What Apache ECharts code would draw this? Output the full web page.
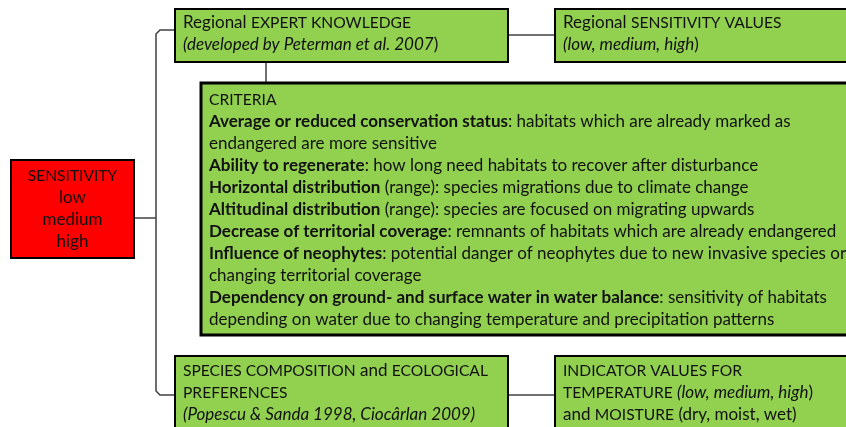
<!DOCTYPE html>
<html>
<head>
<meta charset="utf-8">
<script src="https://cdn.jsdelivr.net/npm/echarts@6/dist/echarts.min.js"></script>
<style>
  html, body { margin: 0; padding: 0; background: #fff; }
  #chart { width: 846px; height: 427px; }
</style>
</head>
<body>
<div id="chart"></div>
<script>
// box texts ({b|..} bold, {i|..} italic, {c|..} capitals)
const sensitivityLines = ['{c|SENSITIVITY}', 'low', 'medium', 'high'];
const expertLines = ['Regional {c|EXPERT KNOWLEDGE}', '{i|(developed by Peterman et al. 2007}{n|)}'];
const valuesLines = ['Regional {c|SENSITIVITY VALUES}', '{i|(low, medium, high}{n|)}'];
const criteriaLines = [
  '{c|CRITERIA}',
  '{b|Average or reduced conservation status}: habitats which are already marked as',
  'endangered are more sensitive',
  '{b|Ability to regenerate}: how long need habitats to recover after disturbance',
  '{b|Horizontal distribution} (range): species migrations due to climate change',
  '{b|Altitudinal distribution} (range): species are focused on migrating upwards',
  '{b|Decrease of territorial coverage}: remnants of habitats which are already endangered',
  '{b|Influence of neophytes}: potential danger of neophytes due to new invasive species or',
  'changing territorial coverage',
  '{b|Dependency on ground- and surface water in water balance}: sensitivity of habitats',
  'depending on water due to changing temperature and precipitation patterns'
];
const speciesLines = ['{c|SPECIES COMPOSITION} and {c|ECOLOGICAL}', '{c|PREFERENCES}', '{i|(Popescu & Sanda 1998, Ciocârlan 2009)}'];
const indicatorLines = ['{c|INDICATOR VALUES FOR}', '{c|TEMPERATURE} {i|(low, medium, high}{n|)}', 'and {c|MOISTURE} (dry, moist, wet)'];

const FONT = 'Lato';
const FS = 17;
const CAPS_FS = 15.6;
const LH = 22;
const GREEN = '#92D050';
const RED = '#FF0000';
const TXT = '#111';
const LINE = '#404040';

const rich = {
  b: { fontFamily: FONT, fontSize: FS, fontWeight: 'bold', fill: TXT, lineHeight: LH },
  i: { fontFamily: FONT, fontSize: FS, fontStyle: 'italic', fill: TXT, lineHeight: LH },
  n: { fontFamily: FONT, fontSize: FS, fill: TXT, lineHeight: LH },
  c: { fontFamily: FONT, fontSize: CAPS_FS, fill: TXT, lineHeight: LH }
};

function box(x, y, w, h, fill, lw) {
  return {
    type: 'rect',
    shape: { x: x, y: y, width: w, height: h },
    style: { fill: fill, stroke: '#000', lineWidth: lw }
  };
}

function text(lines, x, firstCenter, align) {
  return {
    type: 'text',
    style: {
      text: lines.join('\n'),
      x: x,
      y: firstCenter - LH / 2,
      fill: TXT,
      fontFamily: FONT,
      fontSize: FS,
      lineHeight: LH,
      align: align || 'left',
      verticalAlign: 'top',
      rich: rich
    }
  };
}

function line(points) {
  return {
    type: 'polyline',
    shape: { points: points },
    style: { stroke: LINE, lineWidth: 1.5, fill: null }
  };
}

const chart = echarts.init(document.getElementById('chart'));
chart.setOption({
  backgroundColor: '#fff',
  animation: false,
  graphic: [
    // connectors
    line([[134, 218], [156, 218]]),
    line([[175, 30], [160, 30], [156, 34], [156, 391], [160, 395], [175, 395]]),
    line([[508, 35], [555, 35]]),
    line([[266, 62], [266, 82]]),
    line([[508, 395], [555, 395]]),
    // boxes
    box(11, 160, 123, 98, RED, 2),
    box(175, 9, 333, 53, GREEN, 2),
    box(555, 9, 300, 53, GREEN, 2),
    box(201, 83, 660, 252, GREEN, 3),
    box(175, 356, 333, 80, GREEN, 2),
    box(555, 356, 300, 80, GREEN, 2),
    // texts
    text(sensitivityLines, 72.5, 176, 'center'),
    text(expertLines, 183, 23),
    text(valuesLines, 563, 23),
    text(criteriaLines, 209, 100),
    text(speciesLines, 183, 371),
    text(indicatorLines, 563, 371)
  ]
});
</script>
</body>
</html>
